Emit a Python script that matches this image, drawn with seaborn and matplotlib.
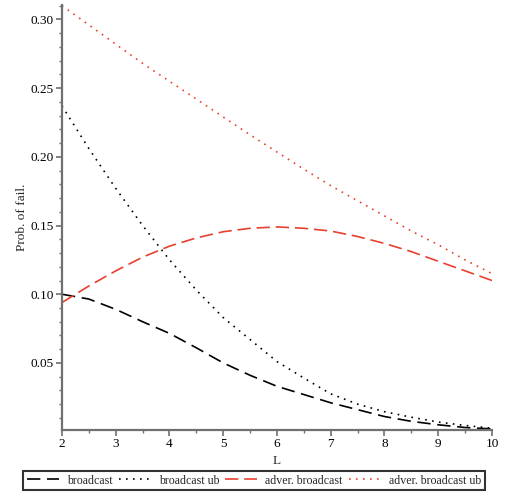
import numpy as np
import pandas as pd
import matplotlib
matplotlib.use("Agg")
import matplotlib.pyplot as plt
import seaborn as sns
from matplotlib.ticker import MultipleLocator, FixedLocator

# ---- data ----
L_values = [2.0, 2.5, 3.0, 3.5, 4.0, 4.5, 5.0, 5.5, 6.0, 6.5, 7.0, 7.5, 8.0, 8.5, 9.0, 9.5, 10.0]
broadcast = [0.100, 0.0965, 0.089, 0.080, 0.0715, 0.061, 0.050, 0.041, 0.033, 0.027,
             0.021, 0.016, 0.011, 0.0075, 0.005, 0.003, 0.002]
broadcast_ub = [0.237, 0.206, 0.177, 0.150, 0.125, 0.103, 0.083, 0.067, 0.051, 0.039,
                0.0275, 0.020, 0.0145, 0.0105, 0.007, 0.0045, 0.0025]
adver_broadcast = [0.094, 0.106, 0.117, 0.127, 0.135, 0.141, 0.1455, 0.148, 0.149, 0.148,
                   0.146, 0.142, 0.137, 0.131, 0.124, 0.117, 0.110]
adver_broadcast_ub = [0.310, 0.296, 0.282, 0.268, 0.255, 0.242, 0.229, 0.216, 0.2035, 0.191,
                      0.179, 0.168, 0.157, 0.146, 0.136, 0.125, 0.115]
series_names = ["broadcast", "broadcast ub", "adver. broadcast", "adver. broadcast ub"]
y_ticks = [0.05, 0.10, 0.15, 0.20, 0.25, 0.30]
x_ticks = [2, 3, 4, 5, 6, 7, 8, 9, 10]

df = pd.concat([
    pd.DataFrame({"L": L_values, "p": vals, "series": name})
    for name, vals in zip(series_names,
                          [broadcast, broadcast_ub, adver_broadcast, adver_broadcast_ub])
], ignore_index=True)

sns.set_theme(style="ticks")
plt.rcParams["font.family"] = ["Liberation Serif", "DejaVu Serif"]
plt.rcParams["font.size"] = 9

RED = "#e8402e"
palette = {"broadcast": "black", "broadcast ub": "black",
           "adver. broadcast": RED, "adver. broadcast ub": RED}
dashes = {"broadcast": (8, 4), "broadcast ub": (1, 3.2),
          "adver. broadcast": (8, 3.5), "adver. broadcast ub": (1, 3.2)}

fig = plt.figure(figsize=(5.10, 5.04), dpi=100)
ax = fig.add_axes([62 / 510, 74 / 504, (492 - 62) / 510, (430 - 5) / 504])

sns.lineplot(data=df, x="L", y="p", hue="series", style="series",
             hue_order=series_names, style_order=series_names,
             palette=palette, dashes=dashes, linewidth=1.2, ax=ax, legend=True)

handles, labels = ax.get_legend_handles_labels()
ax.get_legend().remove()

ax.set_xlim(2, 10)
ax.set_ylim(0.0012, 0.3105)
ax.xaxis.set_major_locator(FixedLocator(x_ticks))
ax.xaxis.set_minor_locator(MultipleLocator(0.5))
ax.yaxis.set_major_locator(FixedLocator(y_ticks))
ax.yaxis.set_minor_locator(MultipleLocator(0.01))
ax.set_xticklabels([str(t) for t in x_ticks])
ax.set_yticklabels([f"{t:.2f}" for t in y_ticks])

for s in ["top", "right"]:
    ax.spines[s].set_visible(False)
for s in ["left", "bottom"]:
    ax.spines[s].set_color("#707070")
    ax.spines[s].set_linewidth(1.6)

ax.tick_params(which="major", direction="out", length=4, width=1.2, color="#707070",
               labelsize=9.5, labelcolor="black", pad=2)
ax.tick_params(which="minor", direction="out", length=2.5, width=1.0, color="#707070")

ax.set_xlabel("L", fontsize=9.5, labelpad=3)
ax.set_ylabel("Prob. of fail.", fontsize=9.5, labelpad=2)

leg = fig.legend(handles, labels, loc="center", bbox_to_anchor=(254 / 510, 1 - 480.5 / 504),
                 ncol=4, frameon=True, fancybox=False, fontsize=8.6,
                 handlelength=2.7, handletextpad=0.67, columnspacing=0.5,
                 borderpad=0.3, borderaxespad=0)
leg.get_frame().set_edgecolor("black")
leg.get_frame().set_linewidth(1.5)

fig.savefig("out.png", dpi=100)
